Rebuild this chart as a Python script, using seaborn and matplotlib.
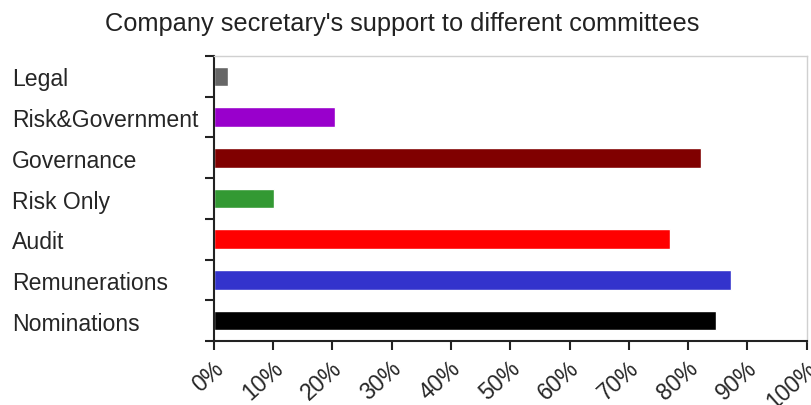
import matplotlib
matplotlib.use("Agg")
import matplotlib.pyplot as plt
import matplotlib.transforms as mtransforms
import seaborn as sns
import pandas as pd
from matplotlib.ticker import PercentFormatter, FixedLocator

# committees, top to bottom
committees = ["Legal", "Risk&Government", "Governance", "Risk Only",
              "Audit", "Remunerations", "Nominations"]
support_pct = [2.4, 20.5, 82.2, 10.2, 77.0, 87.2, 84.7]
bar_colors = ["#666666", "#9900cc", "#800000", "#339933",
              "#ff0000", "#3333cc", "#000000"]
x_ticks = [0, 10, 20, 30, 40, 50, 60, 70, 80, 90, 100]

sns.set_style("white")
plt.rcParams["font.family"] = ["Liberation Sans", "DejaVu Sans"]

df = pd.DataFrame({"committee": committees, "pct": support_pct})

fig = plt.figure(figsize=(8.11, 4.06), dpi=100)
ax = fig.add_axes([0.2635, 0.1576, 0.7312, 0.702])

sns.barplot(data=df, x="pct", y="committee", hue="committee",
            palette=bar_colors, legend=False, width=0.48, orient="h",
            saturation=1, ax=ax)

ax.set_xlim(0, 100)
ax.set_ylim(len(committees) - 0.5, -0.5)
ax.set_xticks(x_ticks)
ax.xaxis.set_major_formatter(PercentFormatter(decimals=0))
ax.set_xlabel("")
ax.set_ylabel("")

# y: labels at bar centres, tick marks at category boundaries
ax.yaxis.set_minor_locator(FixedLocator([i - 0.5 for i in range(len(committees) + 1)]))
ax.tick_params(axis="y", which="major", length=0, pad=145, labelsize=16.6)
ax.tick_params(axis="y", which="minor", left=True, length=6.5, width=1.5, color="#222222")
for lbl in ax.get_yticklabels():
    lbl.set_ha("left")

ax.tick_params(axis="x", which="major", bottom=True, length=6.5, width=1.5,
               color="#222222", labelsize=16.5, pad=4.5)
shift = mtransforms.ScaledTranslation(-0.01, 0, fig.dpi_scale_trans)
for lbl in ax.get_xticklabels():
    lbl.set_rotation(42)
    lbl.set_ha("right")
    lbl.set_va("top")
    lbl.set_rotation_mode("anchor")
    lbl.set_transform(lbl.get_transform() + shift)

for side in ["left", "bottom"]:
    ax.spines[side].set_color("#222222")
    ax.spines[side].set_linewidth(1.5)
for side in ["top", "right"]:
    ax.spines[side].set_color("#d0d0d0")
    ax.spines[side].set_linewidth(1)

fig.text(0.4957, 1 - 31.5 / 406, "Company secretary's support to different committees",
         ha="center", va="baseline", fontsize=18.3, color="#222222")

fig.savefig("out.png", dpi=100)
